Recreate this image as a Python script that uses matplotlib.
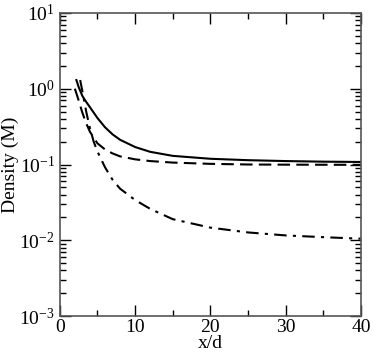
import numpy as np
import matplotlib
matplotlib.use('Agg')
from matplotlib import pyplot as plt
from matplotlib.ticker import LogLocator, MultipleLocator

plt.rcParams['font.family'] = 'Liberation Serif'
plt.rcParams['mathtext.fontset'] = 'custom'
plt.rcParams['mathtext.rm'] = 'Liberation Serif'
plt.rcParams['mathtext.it'] = 'Liberation Serif:italic'

# сплошная кривая
x_solid = [2.2, 2.5, 3, 3.5, 4, 5, 6, 7, 8, 10, 12, 15, 20, 25, 30, 35, 40]
y_solid = [1.3, 1.05, 0.8, 0.67, 0.57, 0.41, 0.31, 0.25, 0.212, 0.17, 0.147, 0.13, 0.119, 0.114, 0.111, 0.109, 0.108]

# штриховая
x_dash = [2.0, 2.5, 3, 3.5, 4, 5, 6, 7, 8, 10, 12, 15, 20, 25, 30, 40]
y_dash = [1.0, 0.7, 0.48, 0.35, 0.27, 0.19, 0.158, 0.14, 0.128, 0.117, 0.111, 0.106, 0.102, 0.1, 0.0995, 0.099]

# штрих-пунктир
x_dd = [2.7, 3, 3.5, 4, 4.5, 5, 6, 7, 8, 10, 12, 15, 20, 25, 30, 35, 40]
y_dd = [1.3, 0.92, 0.5, 0.3, 0.2, 0.148, 0.092, 0.063, 0.048, 0.034, 0.026, 0.019, 0.0147, 0.0127, 0.0116, 0.011, 0.0105]

fig = plt.figure(figsize=(3.74, 3.58), dpi=100)
ax = fig.add_axes([0.160, 0.117, 0.805, 0.847])

ax.plot(x_solid, y_solid, 'k-', lw=1.5)
ax.plot(x_dash, y_dash, 'k', lw=1.5, dashes=(6, 3))
ax.plot(x_dd, y_dd, 'k', lw=1.5, dashes=(6, 3, 1.5, 3))

ax.set_yscale('log')
ax.set_xlim(0, 40)
ax.set_ylim(1e-3, 1e1)
ax.xaxis.set_major_locator(MultipleLocator(10))
ax.xaxis.set_minor_locator(MultipleLocator(5))
ax.yaxis.set_major_locator(LogLocator(base=10, numticks=10))
ax.yaxis.set_minor_locator(LogLocator(base=10, subs=np.arange(2, 10), numticks=20))

ax.tick_params(which='both', direction='in', top=True, right=True, labelsize=14, colors='k')
ax.tick_params(which='major', length=8, width=1)
ax.tick_params(which='minor', length=4, width=1)
ax.tick_params(axis='x', pad=2)
for s in ax.spines.values():
    s.set_color('#555555')
    s.set_linewidth(1.2)

ax.set_xlabel('x/d', fontsize=14, labelpad=-1)
ax.set_ylabel('Density (M)', fontsize=14, labelpad=0)

plt.savefig('out.png', dpi=100)
